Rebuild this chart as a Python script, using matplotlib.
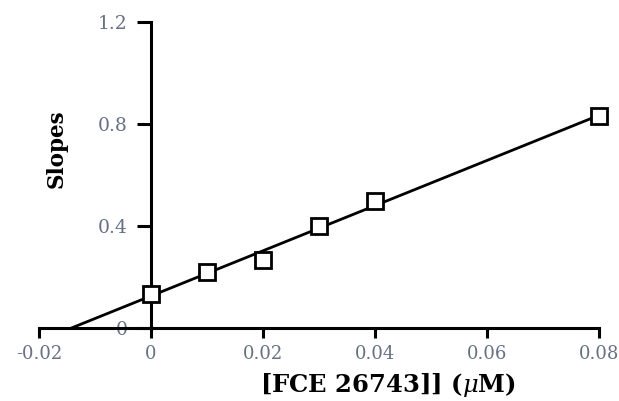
import numpy as np
import matplotlib
matplotlib.use("Agg")
import matplotlib.pyplot as plt

conc = [0.0, 0.01, 0.02, 0.03, 0.04, 0.08]
slopes = [0.133, 0.22, 0.267, 0.40, 0.50, 0.83]
xticks = [-0.02, 0, 0.02, 0.04, 0.06, 0.08]
xticklabels = ["-0.02", "0", "0.02", "0.04", "0.06", "0.08"]
yticks = [0, 0.4, 0.8, 1.2]
yticklabels = ["0", "0.4", "0.8", "1.2"]

plt.rcParams["mathtext.fontset"] = "dejavuserif"

fig = plt.figure(figsize=(6.19, 4.01), dpi=100)
ax = fig.add_axes([0.063, 0.182, 0.905, 0.763])

m, b = np.polyfit(conc, slopes, 1)
x0 = -b / m
xl = np.array([x0, max(conc)])
ax.plot(xl, m * xl + b, color="black", lw=2, zorder=2, clip_on=False)
ax.plot(conc, slopes, ls="none", marker="s", ms=11, mfc="white", mec="black", mew=2,
        zorder=3, clip_on=False)

ax.set_xlim(-0.02, 0.08)
ax.set_ylim(0, 1.2)
ax.spines["top"].set_visible(False)
ax.spines["right"].set_visible(False)
ax.spines["left"].set_position(("data", 0))
ax.spines["left"].set_linewidth(2.2)
ax.spines["bottom"].set_linewidth(2.2)
ax.set_xticks(xticks)
ax.set_xticklabels(xticklabels)
ax.set_yticks(yticks)
ax.set_yticklabels(yticklabels)
lab_color = "#66708a"
ax.tick_params(axis="x", direction="out", length=7, width=2.2, pad=5, labelsize=13, labelcolor=lab_color)
ax.tick_params(axis="y", direction="out", length=10, width=2.2, pad=7, labelsize=13.5, labelcolor=lab_color)
for t in ax.get_xticklabels() + ax.get_yticklabels():
    t.set_fontfamily("DejaVu Serif")

fig.text(0.092, 0.63, "Slopes", rotation=90, ha="center", va="center",
         fontsize=15.5, fontweight="bold", family="DejaVu Serif")
fig.text(0.627, 0.04, "[FCE 26743]] ($\\mu$M)", ha="center", va="center",
         fontsize=17.5, fontweight="bold", family="DejaVu Serif")

fig.savefig("out.png", dpi=100)
